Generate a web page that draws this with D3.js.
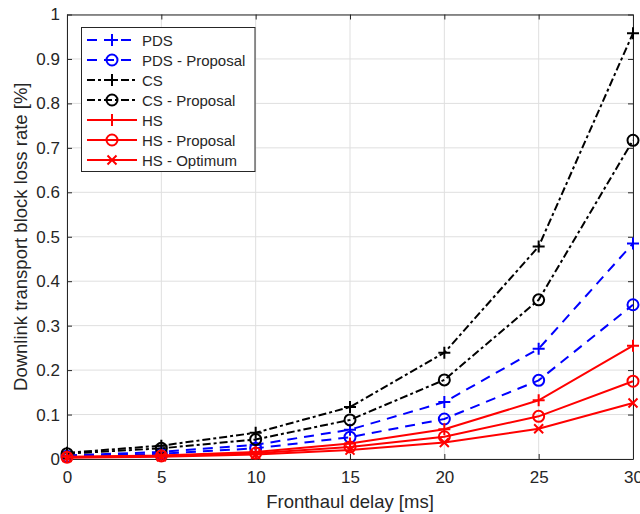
<!DOCTYPE html>
<html><head><meta charset="utf-8">
<script src="https://cdn.jsdelivr.net/npm/d3@7"></script>
<style>body{margin:0;background:#fff}svg{display:block;font-family:"Liberation Sans",Arial,sans-serif}</style>
</head><body>
<svg id="c" width="640" height="514"></svg>
<script>
const delays = [0, 5, 10, 15, 20, 25, 30];
const pds = [0.008, 0.016, 0.032, 0.066, 0.128, 0.248, 0.485];
const pdsProposal = [0.006, 0.012, 0.024, 0.049, 0.090, 0.177, 0.347];
const cs = [0.014, 0.030, 0.059, 0.117, 0.239, 0.478, 0.958];
const csProposal = [0.012, 0.024, 0.044, 0.088, 0.178, 0.358, 0.717];
const hs = [0.005, 0.008, 0.016, 0.035, 0.067, 0.132, 0.255];
const hsProposal = [0.004, 0.007, 0.013, 0.027, 0.050, 0.096, 0.175];
const hsOptimum = [0.003, 0.005, 0.010, 0.020, 0.037, 0.068, 0.126];
const xTicks = [0, 5, 10, 15, 20, 25, 30];
const yTicks = [0, 0.1, 0.2, 0.3, 0.4, 0.5, 0.6, 0.7, 0.8, 0.9, 1];
const seriesNames = ["PDS", "PDS - Proposal", "CS", "CS - Proposal", "HS", "HS - Proposal", "HS - Optimum"];
const seriesValues = [pds, pdsProposal, cs, csProposal, hs, hsProposal, hsOptimum];
const seriesColors = ["#0000ff", "#0000ff", "#000000", "#000000", "#ff0000", "#ff0000", "#ff0000"];
const seriesDash = ["10,7", "10,7", "8,3,3,3", "8,3,3,3", null, null, null];
const seriesMarker = ["plus", "circle", "plus", "circle", "plus", "circle", "cross"];

const L = 67, R = 633, T = 14.5, B = 459;
const svg = d3.select("#c");
const x = d3.scaleLinear().domain([0, 30]).range([L, R]);
const y = d3.scaleLinear().domain([0, 1]).range([B, T]);
const axisCol = "#262626";

// grid
const g = svg.append("g");
g.selectAll(".gx").data(xTicks).join("line").attr("x1", d => x(d)).attr("x2", d => x(d))
  .attr("y1", T).attr("y2", B).attr("stroke", "#dfdfdf").attr("stroke-width", 1);
g.selectAll(".gy").data(yTicks).join("line").attr("y1", d => y(d)).attr("y2", d => y(d))
  .attr("x1", L).attr("x2", R).attr("stroke", "#dfdfdf").attr("stroke-width", 1);

// axes
const ax = svg.append("g").attr("transform", `translate(0,${B})`)
  .call(d3.axisBottom(x).tickValues(xTicks).tickSizeInner(-5).tickSizeOuter(0).tickPadding(12));
const ay = svg.append("g").attr("transform", `translate(${L},0)`)
  .call(d3.axisLeft(y).tickValues(yTicks).tickFormat(d3.format("~g")).tickSizeInner(-5).tickSizeOuter(0).tickPadding(7));
const axT = svg.append("g").attr("transform", `translate(0,${T})`)
  .call(d3.axisTop(x).tickValues(xTicks).tickSizeInner(-5).tickSizeOuter(0).tickFormat(""));
const ayR = svg.append("g").attr("transform", `translate(${R},0)`)
  .call(d3.axisRight(y).tickValues(yTicks).tickSizeInner(-5).tickSizeOuter(0).tickFormat(""));
[ax, ay, axT, ayR].forEach(a => {
  a.select(".domain").attr("stroke", axisCol).attr("stroke-width", 1);
  a.selectAll(".tick line").attr("stroke", axisCol);
  a.selectAll(".tick text").attr("fill", axisCol).attr("font-size", 17).attr("font-family", "Liberation Sans, Arial, sans-serif");
});

// labels
svg.append("text").attr("x", (L + R) / 2).attr("y", 508).attr("text-anchor", "middle")
  .attr("font-size", 18.5).attr("fill", axisCol).text("Fronthaul delay [ms]");
svg.append("text").attr("transform", `translate(27,${(T + B) / 2}) rotate(-90)`).attr("text-anchor", "middle")
  .attr("font-size", 18.5).attr("fill", axisCol).text("Downlink transport block loss rate [%]");

function marker(sel, type, color) {
  if (type === "plus") {
    sel.append("path").attr("d", "M-6,0H6M0,-6V6").attr("stroke", color).attr("stroke-width", 2).attr("fill", "none");
  } else if (type === "circle") {
    sel.append("circle").attr("r", 5.5).attr("stroke", color).attr("stroke-width", 2).attr("fill", "none");
  } else {
    sel.append("path").attr("d", "M-4.5,-4.5L4.5,4.5M-4.5,4.5L4.5,-4.5").attr("stroke", color).attr("stroke-width", 2).attr("fill", "none");
  }
}

const line = d3.line().x((d, i) => x(delays[i])).y(d => y(d));
seriesValues.forEach((vals, s) => {
  const gs = svg.append("g");
  gs.append("path").attr("d", line(vals)).attr("fill", "none").attr("stroke", seriesColors[s])
    .attr("stroke-width", 2).attr("stroke-dasharray", seriesDash[s]);
  vals.forEach((v, i) => {
    const m = gs.append("g").attr("transform", `translate(${x(delays[i])},${y(v)})`);
    marker(m, seriesMarker[s], seriesColors[s]);
  });
});

// legend
const lg = svg.append("g");
lg.append("rect").attr("x", 81.5).attr("y", 27.5).attr("width", 173.5).attr("height", 144)
  .attr("fill", "#fff").attr("stroke", axisCol).attr("stroke-width", 1);
seriesNames.forEach((name, s) => {
  const yy = 40 + s * 20;
  lg.append("line").attr("x1", 87).attr("x2", 137).attr("y1", yy).attr("y2", yy)
    .attr("stroke", seriesColors[s]).attr("stroke-width", 2).attr("stroke-dasharray", seriesDash[s]);
  const m = lg.append("g").attr("transform", `translate(112,${yy})`);
  marker(m, seriesMarker[s], seriesColors[s]);
  lg.append("text").attr("x", 142).attr("y", yy + 5.5).attr("font-size", 15).attr("fill", axisCol).text(name);
});
</script>
</body></html>
